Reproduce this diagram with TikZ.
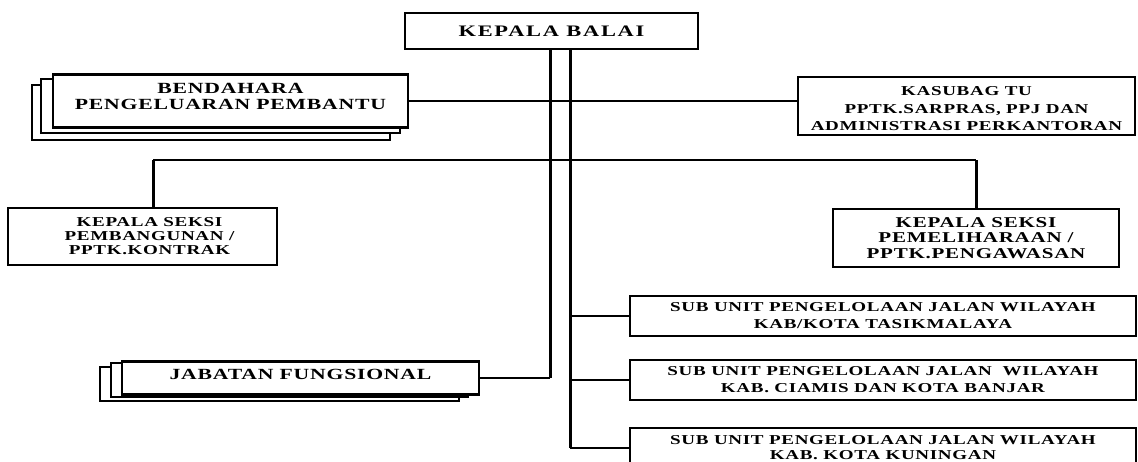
\documentclass[tikz,border=0pt]{standalone}
\usepackage{fontspec}
\newfontfamily\boxfont{Liberation Serif}[FakeStretch=1.4, LetterSpace=5]
\newcommand{\fs}[2]{\boxfont\bfseries\fontsize{#1}{#2}\selectfont}
\begin{document}
\begin{tikzpicture}[x=1pt,y=-1pt,
  box/.style={draw, line width=2.2pt, fill=white, inner sep=0pt, align=center},
  lbl/.style={inner sep=0pt, align=center},
  stackbox/.style={draw, line width=2.2pt, fill=white},
  vline/.style={line width=3pt},
  hline/.style={line width=1.8pt}]
\useasboundingbox (0,0) rectangle (1138,461);
% top
\node[box, line width=2.6pt, minimum width=293, minimum height=36, font={\fs{16}{19}\addfontfeature{LetterSpace=11}}] (kb) at (551.5,31) {KEPALA BALAI};
% bendahara stack
\draw[stackbox] (32,85) rectangle (390,140);
\draw[stackbox] (41,79) rectangle (400,133);
\node[box, minimum width=355, minimum height=53] (bd) at (230.5,101) {};
\node[lbl, font=\fs{15.5}{16}] (bdt) at ([yshift=5pt]bd.center) {BENDAHARA\\PENGELUARAN PEMBANTU};
% kasubag
\node[box, minimum width=337, minimum height=58] (ks) at (966.5,106) {};
\node[lbl, font=\fs{13.6}{17.5}] (kst) at ([yshift=-3pt]ks.center) {KASUBAG TU\\PPTK.SARPRAS, PPJ DAN\\ADMINISTRASI PERKANTORAN};
% kepala seksi
\node[box, minimum width=269, minimum height=57] (kp) at (142.5,236.5) {};
\node[lbl, font=\fs{13.6}{14}] (kpt) at ([xshift=7pt]kp.center) {KEPALA SEKSI\\PEMBANGUNAN /\\PPTK.KONTRAK};
\node[box, minimum width=286, minimum height=58, font=\fs{15}{15.5}] (km) at (976,238) {KEPALA SEKSI\\PEMELIHARAAN /\\PPTK.PENGAWASAN};
% sub units
\node[box, minimum width=506, minimum height=40, font=\fs{13.6}{17}] (s1) at (883,316) {SUB UNIT PENGELOLAAN JALAN WILAYAH\\KAB/KOTA TASIKMALAYA};
\node[box, minimum width=506, minimum height=40, font=\fs{13.6}{17}] (s2) at (883,380) {SUB UNIT PENGELOLAAN JALAN \ WILAYAH\\KAB. CIAMIS DAN KOTA BANJAR};
\node[box, minimum width=506, minimum height=40, font=\fs{13.6}{15}] (s3) at (883,448) {SUB UNIT PENGELOLAAN JALAN WILAYAH\\KAB. KOTA KUNINGAN};
% jabatan stack
\draw[stackbox] (100,367) rectangle (459,401);
\draw[stackbox] (111,363) rectangle (468,397);
\node[box, minimum width=357, minimum height=33] (jf) at (300.5,378) {};
\node[lbl, font=\fs{15.5}{17}] (jft) at ([yshift=4pt]jf.center) {JABATAN FUNGSIONAL};
% connectors
\coordinate (vL) at (550,0);
\coordinate (vR) at (570,0);
\coordinate (dl) at (153,160);
\draw[hline] (bd.east) -- (bd.east -| ks.west);
\draw[hline] (dl) -- (dl -| km.north);
\draw[vline] (kp.north -| dl) -- (dl);
\draw[vline] (km.north) -- (dl -| km.north);
\draw[hline] (vR |- s1.west) -- (s1.west);
\draw[hline] (vR |- s2.west) -- (s2.west);
\draw[hline] (vR |- s3.west) -- (s3.west);
\draw[hline] (vL |- jf.east) -- (jf.east);
\draw[vline] (kb.south -| vL) -- (vL |- jf.east);
\draw[vline] (kb.south -| vR) -- (vR |- s3.west);
\end{tikzpicture}
\end{document}
